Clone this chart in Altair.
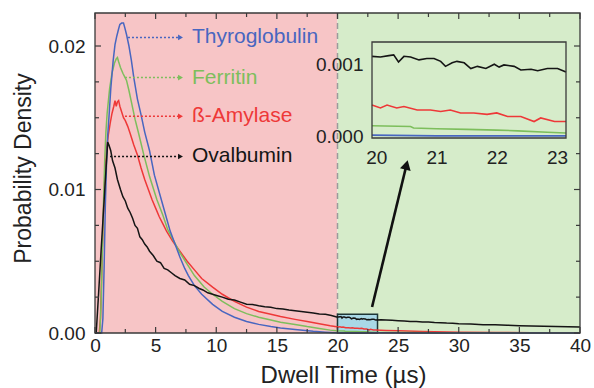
import altair as alt
import pandas as pd

# ---------------- layout / style ----------------
W, H = 485, 320
PAD = {"left": 95, "top": 13, "right": 14, "bottom": 55}
FONT = "Liberation Sans"
FRAME = "#3a3a3a"
TXT = "#222222"

X_DOMAIN = [0, 40]
Y_DOMAIN = [0, 0.0223]
INSET_X_DOMAIN = [19.93, 23.15]
INSET_Y_DOMAIN = [-0.00002, 0.00132]
INSET_X_RANGE = [277, 471]
INSET_Y_RANGE = [125, 29]

# ---------------- data ----------------
SERIES = ["Thyroglobulin", "Ferritin", "ß-Amylase", "Ovalbumin"]
SERIES_COLORS = ["#4866C0", "#7DBE5C", "#EE3838", "#151515"]
COL = dict(zip(SERIES, SERIES_COLORS))

# Thyroglobulin (blue)
BLU_X_A = [0, 0.55, 0.65, 0.75, 0.85, 0.95, 1.05, 1.15, 1.3, 1.5,
           1.65, 1.8, 1.95, 2.05, 2.2, 2.35, 2.45, 2.6, 2.8, 3.0,
           3.2, 3.5, 3.8, 4.1, 4.5, 4.9, 5.5, 5.9, 6.2, 6.6,
           7.0, 7.4, 7.7, 8.2, 8.8, 9.7, 10.5, 11.5, 12.5, 13.5,
           14.5, 15.3, 16.5, 18.0, 19.0]
BLU_Y_A = [0, 0, 0.0010, 0.0045, 0.0088, 0.0118, 0.0138, 0.0150, 0.0170, 0.0190,
           0.0201, 0.0207, 0.0212, 0.0215, 0.0216, 0.0216, 0.0213, 0.0208, 0.0200, 0.0190,
           0.0178, 0.0163, 0.0152, 0.0140, 0.0127, 0.0110, 0.0092, 0.0080, 0.0071, 0.0062,
           0.0053, 0.0045, 0.0040, 0.0033, 0.0027, 0.0020, 0.0015, 0.0011, 0.0008, 0.0006,
           0.00045, 0.00035, 0.00025, 0.00012, 0.00006]
BLU_IN_X = [19.93, 21.0, 22.0, 23.15]
BLU_IN_Y = [0.00002, 0.00001, 0.00001, 0.00001]
BLU_X_B = [24, 26, 30, 40]
BLU_Y_B = [0.00001, 0, 0, 0]

# Ferritin (green)
GRN_X_A = [0, 0.4, 0.5, 0.6, 0.7, 0.8, 0.9, 1.0, 1.2, 1.4,
           1.6, 1.75, 1.85, 1.95, 2.1, 2.3, 2.6, 2.8, 3.0, 3.3,
           3.6, 4.0, 4.5, 5.1, 5.6, 6.0, 6.5, 7.0, 7.6, 8.2,
           9.0, 9.7, 10.5, 11.5, 12.5, 13.5, 14.5, 15.3, 16.5, 17.5,
           18.5, 19.4]
GRN_Y_A = [0, 0, 0.0020, 0.0055, 0.0090, 0.0120, 0.0140, 0.0153, 0.0170, 0.0181,
           0.0188, 0.0191, 0.0192, 0.0189, 0.0185, 0.0181, 0.0176, 0.0169, 0.0161, 0.0149,
           0.0139, 0.0125, 0.0109, 0.0093, 0.0082, 0.0072, 0.0064, 0.0056, 0.0048, 0.0040,
           0.0032, 0.0027, 0.0022, 0.0017, 0.00135, 0.0011, 0.0009, 0.00075, 0.0006, 0.00045,
           0.00032, 0.0002]
GRN_IN_X = [19.93, 20.57, 20.62, 21.0, 21.5, 22.0, 22.35, 22.84, 23.15]
GRN_IN_Y = [0.00015, 0.00014, 0.00012, 0.00011, 0.00010, 0.00009, 0.00008, 0.00006, 0.00005]
GRN_X_B = [24, 26, 28, 30, 35, 40]
GRN_Y_B = [0.00004, 0.00003, 0.00002, 0.00001, 0, 0]

# ß-Amylase (red)
RED_X_A = [0, 0.35, 0.45, 0.55, 0.65, 0.75, 0.85, 0.95, 1.1, 1.25,
           1.4, 1.55, 1.65, 1.75, 1.85, 1.95, 2.05, 2.2, 2.35, 2.5,
           2.7, 2.9, 3.2, 3.5, 3.8, 4.1, 4.4, 4.7, 5.0, 5.3,
           5.6, 5.9, 6.4, 7.0, 7.6, 8.2, 8.8, 9.7, 10.5, 11.5,
           12.5, 13.5, 14.5, 15.3, 16.5, 17.5, 18.5, 19.4]
RED_Y_A = [0, 0, 0.0010, 0.0040, 0.0072, 0.0098, 0.0115, 0.0128, 0.0138, 0.0146,
           0.0153, 0.0158, 0.0162, 0.0158, 0.0161, 0.0162, 0.0158, 0.0154, 0.0150, 0.0148,
           0.0144, 0.0139, 0.0131, 0.0124, 0.0115, 0.0107, 0.0100, 0.0093, 0.0087, 0.0081,
           0.0076, 0.0071, 0.0064, 0.0057, 0.0050, 0.0044, 0.0038, 0.0032, 0.0027, 0.0022,
           0.0018, 0.0015, 0.0013, 0.00115, 0.00095, 0.0008, 0.00065, 0.0005]
RED_IN_X = [19.93, 20.07, 20.18, 20.34, 20.46, 20.68, 20.9, 21.07, 21.23, 21.4,
            21.62, 21.84, 22.0, 22.18, 22.4, 22.62, 22.73, 22.96, 23.15]
RED_IN_Y = [0.00044, 0.00040, 0.00044, 0.00040, 0.00042, 0.00037, 0.00037, 0.00035, 0.00037, 0.00033,
            0.00033, 0.00031, 0.00033, 0.00028, 0.00028, 0.00021, 0.00026, 0.00021, 0.00021]
RED_X_B = [24, 25, 27, 30, 33, 36, 40]
RED_Y_B = [0.00018, 0.00015, 0.0001, 0.00006, 0.00004, 0.00002, 0.00001]

# Ovalbumin (black)
BLK_X_A = [0, 0.1, 0.3, 0.5, 0.7, 0.9, 1.05, 1.15, 1.3, 1.45,
           1.65, 1.85, 2.1, 2.3, 2.5, 2.7, 2.9, 3.1, 3.3, 3.5,
           3.7, 3.9, 4.1, 4.3, 4.5, 4.8, 5.1, 5.4, 5.7, 6.0,
           6.3, 6.6, 7.0, 7.4, 7.8, 8.2, 8.6, 8.9, 9.3, 9.7,
           10.1, 10.5, 11.0, 11.5, 12.0, 12.5, 13.0, 13.5, 14.0, 14.5,
           15.0, 15.5, 16.0, 16.5, 17.0, 17.5, 18.0, 18.5, 19.0, 19.5]
BLK_Y_A = [0, 0, 0.0028, 0.0057, 0.0085, 0.0113, 0.0133, 0.0131, 0.0127, 0.0120,
           0.0115, 0.0107, 0.0100, 0.0095, 0.0092, 0.0087, 0.0084, 0.0080, 0.0075, 0.0073,
           0.0067, 0.0065, 0.0062, 0.0060, 0.0057, 0.0054, 0.0050, 0.0049, 0.0045, 0.0044,
           0.0042, 0.0040, 0.0038, 0.0037, 0.0034, 0.0033, 0.0031, 0.0030, 0.0028, 0.0027,
           0.0026, 0.0025, 0.00235, 0.0023, 0.00215, 0.0020, 0.00198, 0.0019, 0.00183, 0.0018,
           0.0017, 0.00167, 0.0016, 0.00155, 0.0015, 0.00145, 0.0014, 0.00133, 0.0013, 0.00122]
BLK_IN_X = [19.93, 20.07, 20.21, 20.29, 20.37, 20.46, 20.57, 20.71, 20.84, 20.96,
            21.07, 21.15, 21.26, 21.34, 21.46, 21.57, 21.68, 21.82, 21.96, 22.04,
            22.12, 22.29, 22.40, 22.57, 22.68, 22.84, 23.01, 23.15]
BLK_IN_Y = [0.00112, 0.00111, 0.00113, 0.00114, 0.00104, 0.00112, 0.00111, 0.00107, 0.00109, 0.00109,
            0.00105, 0.00098, 0.00103, 0.00105, 0.00103, 0.00095, 0.00098, 0.00095, 0.00101, 0.00097,
            0.00100, 0.00098, 0.00093, 0.00094, 0.00092, 0.00095, 0.00095, 0.00090]
BLK_X_B = [23.6, 24.0, 24.5, 25.0, 25.5, 26.0, 26.5, 27.0, 27.5, 28.0,
           28.5, 29.0, 29.5, 30.0, 31, 32, 33, 34, 35, 36, 37, 38, 39, 40]
BLK_Y_B = [0.00092, 0.00090, 0.00088, 0.00086, 0.00084, 0.00081, 0.00080, 0.00077, 0.00076, 0.00073,
           0.00072, 0.00069, 0.00068, 0.00064, 0.00062, 0.00058, 0.00057, 0.00054, 0.00051, 0.00049,
           0.00047, 0.00046, 0.00043, 0.00041]

# background regions
REGION_START = [0, 20]
REGION_END = [20, 40]
REGION_COLORS = ["#F7C5C6", "#D6ECCA"]
DIVIDER_X = [20]
ZOOM_BOX = {"x0": [20], "x1": [23.3], "y0": [0], "y1": [0.0013]}

# annotation labels (series names with dotted arrows)
LABEL_X = [8.0, 8.0, 8.0, 8.0]
LABEL_Y = [0.0206, 0.0178, 0.0151, 0.0123]
ARROW_X0 = [2.72, 2.47, 2.47, 1.24]
ARROW_X1 = [7.05, 7.05, 7.05, 7.05]

# big arrow to inset
BIG_ARROW = {"x0": [22.85], "y0": [0.00181], "x1": [25.69], "y1": [0.01171]}

# ticks
X_LABEL_VALUES = [0, 5, 10, 15, 20, 25, 30, 35, 40]
X_MINOR = [2.5, 7.5, 12.5, 17.5, 22.5, 27.5, 32.5, 37.5]
Y_LABEL_VALUES = [0.0, 0.01, 0.02]
Y_MINOR = [0.0025, 0.005, 0.0075, 0.0125, 0.015, 0.0175]
INSET_X_LABELS = [20, 21, 22, 23]
INSET_Y_LABELS = [0.0, 0.001]

# ---------------- scales / axes ----------------
XS = alt.Scale(domain=X_DOMAIN, nice=False, zero=False)
YS = alt.Scale(domain=Y_DOMAIN, nice=False, zero=False)

X_AXIS = alt.Axis(values=X_LABEL_VALUES, format="d", title="Dwell Time (µs)",
                  titleFont=FONT, titleFontSize=24, titleFontWeight="normal", titleColor=TXT,
                  titlePadding=8, titleX=248,
                  labelFont=FONT, labelFontSize=19, labelColor=TXT, labelPadding=3,
                  labelFlush=False, ticks=False, tickSize=0, domain=False, grid=False)
Y_AXIS = alt.Axis(values=Y_LABEL_VALUES, format=".2f", title="Probability Density",
                  titleFont=FONT, titleFontSize=23, titleFontWeight="normal", titleColor=TXT,
                  titlePadding=13, titleY=155,
                  labelFont=FONT, labelFontSize=19, labelColor=TXT, labelPadding=10,
                  labelFlush=False, ticks=False, tickSize=0, domain=False, grid=False)


def X(f):
    return alt.X(f"{f}:Q", scale=XS, axis=X_AXIS)


def Y(f):
    return alt.Y(f"{f}:Q", scale=YS, axis=Y_AXIS)


IXS = alt.Scale(domain=INSET_X_DOMAIN, range=INSET_X_RANGE, nice=False, zero=False)
IYS = alt.Scale(domain=INSET_Y_DOMAIN, range=INSET_Y_RANGE, nice=False, zero=False)
IX_AXIS = alt.Axis(values=INSET_X_LABELS, format="d", title=None, orient="bottom",
                   offset=-(H - INSET_Y_RANGE[0]), labelFont=FONT, labelFontSize=19,
                   labelColor=TXT, labelPadding=10, labelFlush=False, ticks=False,
                   tickSize=0, domain=False, grid=False, zindex=2)
IY_AXIS = alt.Axis(values=INSET_Y_LABELS, format=".3f", title=None, orient="left",
                   offset=-INSET_X_RANGE[0], labelFont=FONT, labelFontSize=19,
                   labelColor=TXT, labelPadding=9, labelFlush=False, ticks=False,
                   tickSize=0, domain=False, grid=False, zindex=2)


def IX(f):
    return alt.X(f"{f}:Q", scale=IXS, axis=IX_AXIS)


def IY(f):
    return alt.Y(f"{f}:Q", scale=IYS, axis=IY_AXIS)


# ---------------- main layers ----------------
regions = pd.DataFrame({"a": REGION_START, "b": REGION_END, "c": REGION_COLORS})
bg = alt.Chart(regions).mark_rect().encode(
    x=X("a"), x2="b", y=alt.value(0), y2=alt.value(H),
    color=alt.Color("c:N", scale=None))

divider = alt.Chart(pd.DataFrame({"x": DIVIDER_X})).mark_rule(
    color="#9b9b9b", strokeDash=[6, 4], strokeWidth=1.5).encode(
    x=X("x"), y=alt.value(0), y2=alt.value(H))

zoom_box = alt.Chart(pd.DataFrame(ZOOM_BOX)).mark_rect(
    fill="#A9D8E6", stroke="#1E3636", strokeWidth=1.5).encode(
    x=X("x0"), x2="x1", y=Y("y0"), y2="y1")


def line_layer(name, xs, ys, xf, yf, width=1.5):
    df = pd.DataFrame({"x": xs, "y": ys})
    return alt.Chart(df).mark_line(color=COL[name], strokeWidth=width).encode(
        x=xf("x"), y=yf("y"))


main_lines = [
    line_layer("ß-Amylase", RED_X_A + RED_IN_X + RED_X_B, RED_Y_A + RED_IN_Y + RED_Y_B, X, Y),
    line_layer("Ferritin", GRN_X_A + GRN_IN_X + GRN_X_B, GRN_Y_A + GRN_IN_Y + GRN_Y_B, X, Y),
    line_layer("Thyroglobulin", BLU_X_A + BLU_IN_X + BLU_X_B, BLU_Y_A + BLU_IN_Y + BLU_Y_B, X, Y),
    line_layer("Ovalbumin", BLK_X_A + BLK_IN_X + BLK_X_B, BLK_Y_A + BLK_IN_Y + BLK_Y_B, X, Y),
]

ann = pd.DataFrame({"name": SERIES, "c": SERIES_COLORS, "lx": LABEL_X, "ly": LABEL_Y,
                    "ax0": ARROW_X0, "ax1": ARROW_X1})
ann_text = alt.Chart(ann).mark_text(align="left", baseline="middle", font=FONT,
                                    fontSize=21).encode(
    x=X("lx"), y=Y("ly"), text="name:N", color=alt.Color("c:N", scale=None))
ann_rule = alt.Chart(ann).mark_rule(strokeDash=[2, 2], strokeWidth=1.5).encode(
    x=X("ax0"), x2="ax1", y=Y("ly"), color=alt.Color("c:N", scale=None))
ann_head = alt.Chart(ann).mark_point(shape="triangle-right", filled=True, size=32,
                                     opacity=1).encode(
    x=X("ax1"), y=Y("ly"), color=alt.Color("c:N", scale=None))

big = pd.DataFrame(BIG_ARROW)
big_rule = alt.Chart(big).mark_rule(color="#111111", strokeWidth=2.6).encode(
    x=X("x0"), y=Y("y0"), x2="x1", y2="y1")
big_head = alt.Chart(big).mark_point(shape="triangle-up", angle=14, filled=True,
                                     size=120, color="#111111", opacity=1).encode(
    x=X("x1"), y=Y("y1"))


def x_ticks(vals, length):
    base = alt.Chart(pd.DataFrame({"t": vals})).mark_rule(color=FRAME, strokeWidth=1.2)
    return [base.encode(x=X("t"), y=alt.value(H), y2=alt.value(H - length)),
            base.encode(x=X("t"), y=alt.value(0), y2=alt.value(length))]


def y_ticks(vals, length):
    base = alt.Chart(pd.DataFrame({"t": vals})).mark_rule(color=FRAME, strokeWidth=1.2)
    return [base.encode(y=Y("t"), x=alt.value(0), x2=alt.value(length)),
            base.encode(y=Y("t"), x=alt.value(W), x2=alt.value(W - length))]


frame = alt.Chart(pd.DataFrame({"k": [0]})).mark_rect(
    fillOpacity=0, stroke=FRAME, strokeWidth=1.3).encode(
    x=alt.value(0), x2=alt.value(W), y=alt.value(0), y2=alt.value(H))

main = alt.layer(
    bg, divider, zoom_box, *main_lines, ann_rule, ann_head, ann_text,
    big_rule, big_head,
    *x_ticks(X_LABEL_VALUES, 6), *x_ticks(X_MINOR, 4),
    *y_ticks(Y_LABEL_VALUES, 6), *y_ticks(Y_MINOR, 4),
    frame,
)

# ---------------- inset layers ----------------
inset_box = pd.DataFrame({"x0": [INSET_X_DOMAIN[0]], "x1": [INSET_X_DOMAIN[1]],
                          "y0": [INSET_Y_DOMAIN[0]], "y1": [INSET_Y_DOMAIN[1]]})
inset_frame = alt.Chart(inset_box).mark_rect(
    fillOpacity=0, stroke=FRAME, strokeWidth=1.3).encode(
    x=IX("x0"), x2="x1", y=IY("y0"), y2="y1")

inset_lines = [
    line_layer("Thyroglobulin", BLU_IN_X, BLU_IN_Y, IX, IY, 1.8),
    line_layer("Ferritin", GRN_IN_X, GRN_IN_Y, IX, IY, 1.6),
    line_layer("ß-Amylase", RED_IN_X, RED_IN_Y, IX, IY, 1.6),
    line_layer("Ovalbumin", BLK_IN_X, BLK_IN_Y, IX, IY, 1.6),
]

inset = alt.layer(*inset_lines, inset_frame)

chart = alt.layer(main, inset).resolve_scale(
    x="independent", y="independent").resolve_axis(
    x="independent", y="independent").properties(
    width=W, height=H, padding=PAD,
    autosize=alt.AutoSizeParams(type="none"),
    background="white").configure_view(stroke="transparent")

chart.save("out.html", embed_options={"renderer": "svg", "actions": False})
